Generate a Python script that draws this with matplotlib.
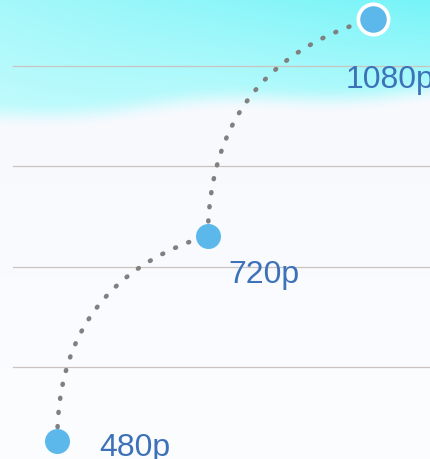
import numpy as np
import matplotlib
matplotlib.use("Agg")
import matplotlib.pyplot as plt

# ---- data ----
labels = ["480p", "720p", "1080p"]
x_vals = [0.4, 1.45, 2.6]
y_vals = [0.26, 2.31, 4.47]
grid_vals = [1, 2, 3, 4]
curveness = 0.37
label_offsets = [(42, -15), (21, -47), (-27, -69)]  # pixels (dx, dy)

W, H = 430, 459
fig = plt.figure(figsize=(W / 100, H / 100), dpi=100)

# ---- background (sky gradient) ----
bg = fig.add_axes([0, 0, 1, 1])
bg.set_axis_off()
yy, xx = np.mgrid[0:H, 0:W].astype(float)
boundary = 124 - 24 * (xx / W) + 4 * np.sin(xx / 45.0)
t = np.clip((yy - (boundary - 24)) / 28, 0, 1)
t = t * t * (3 - 2 * t)
fx = (xx / W)[..., None]
top_col = np.array([165, 248, 250]) / 255 * (1 - fx) + np.array([118, 244, 248]) / 255 * fx
mid_col = np.array([196, 251, 253]) / 255 * (1 - fx) + np.array([180, 250, 252]) / 255 * fx
low_col = np.array([246, 248, 253]) / 255
bot_col = np.array([252, 253, 255]) / 255
f = np.clip(yy / boundary, 0, 1)[..., None]
cyan = top_col * (1 - f) + mid_col * f
below = low_col + (bot_col - low_col) * ((yy / H)[..., None])
img = cyan * (1 - t[..., None]) + below * t[..., None]
bg.imshow(np.clip(img, 0, 1), extent=[0, W, H, 0], aspect='auto', interpolation='bilinear')
bg.set_xlim(0, W)
bg.set_ylim(H, 0)

# ---- main axes ----
ax = fig.add_axes([0, 0, 1, 1])
ax.set_facecolor('none')
ax.set_axis_off()
ax.set_xlim(0, 3)
ax.set_ylim(0.083, 4.658)

for g in grid_vals:
    ax.axhline(g, xmin=13 / W, xmax=1, color='#cbc3bf', lw=0.9, zorder=1)

# curved dotted connectors (quadratic bezier, computed in display space)
fig.canvas.draw()
trans = ax.transData
inv = trans.inverted()
pts = trans.transform(np.column_stack([x_vals, y_vals]))
tt = np.linspace(0, 1, 200)[:, None]
for i in range(len(pts) - 1):
    p1, p2 = pts[i], pts[i + 1]
    mx, my = (p1 + p2) / 2
    c = np.array([mx - (p2[1] - p1[1]) * curveness, my + (p2[0] - p1[0]) * curveness])
    curve = (1 - tt) ** 2 * p1 + 2 * (1 - tt) * tt * c + tt ** 2 * p2
    cd = inv.transform(curve)
    ax.plot(cd[:, 0], cd[:, 1], color='#808080', lw=3.3,
            linestyle=(0, (0.2, 2.9)), dash_capstyle='round', zorder=2)

# markers
for i, (x, y) in enumerate(zip(x_vals, y_vals)):
    if i == len(x_vals) - 1:
        ax.plot(x, y, 'o', ms=21.8, mfc='#5cb8ea', mec='white', mew=2.7, zorder=3)
    else:
        ax.plot(x, y, 'o', ms=18, mfc='#5cb8ea', mec='none', zorder=3)

for lab, x, y, off in zip(labels, x_vals, y_vals, label_offsets):
    ax.annotate(lab, (x, y), xytext=off, textcoords='offset pixels',
                ha='left', va='baseline', fontsize=23, color='#3d72b8',
                family=['Liberation Sans', 'DejaVu Sans'], zorder=4,
                annotation_clip=False)

fig.savefig('out.png', dpi=100)
